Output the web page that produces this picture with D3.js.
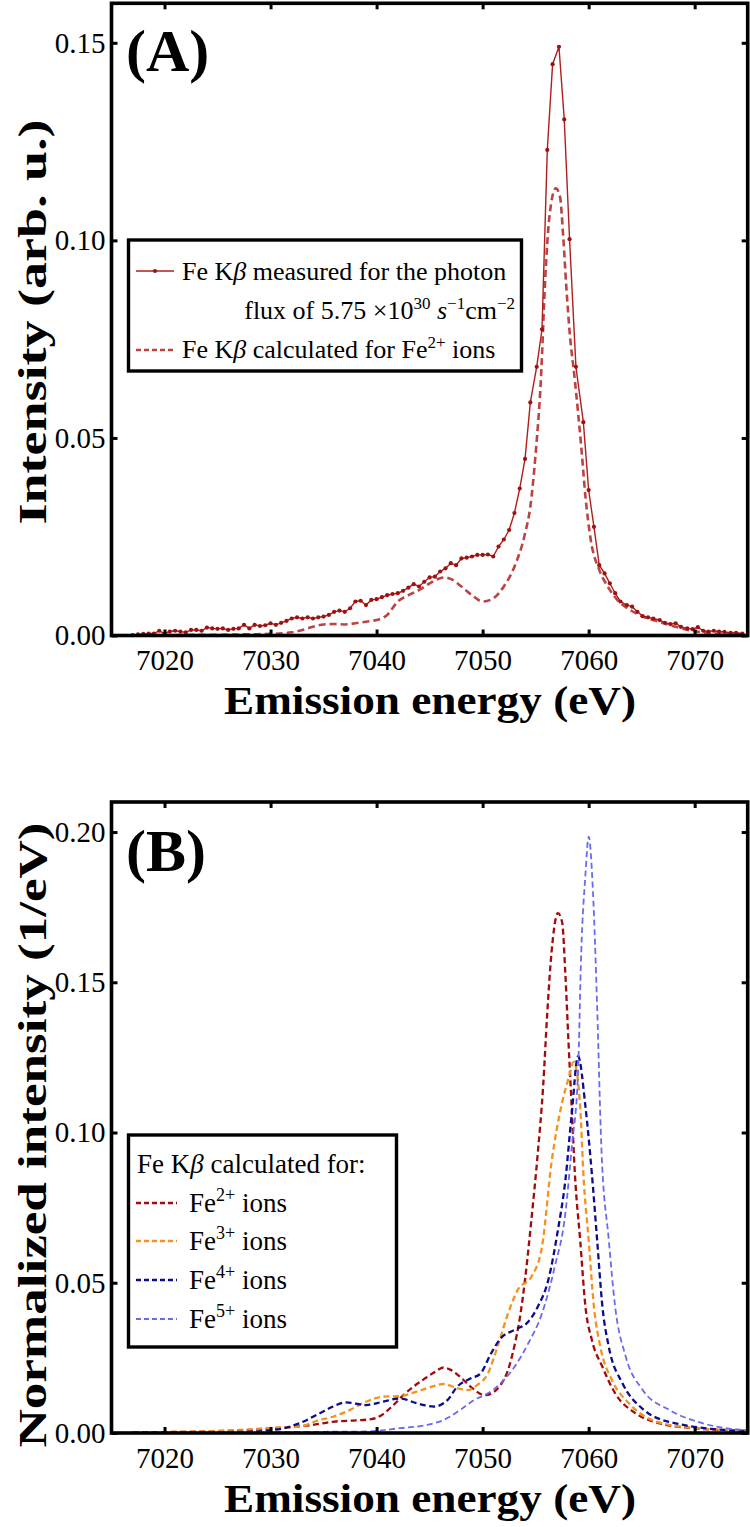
<!DOCTYPE html>
<html>
<head>
<meta charset="utf-8">
<script src="https://cdn.jsdelivr.net/npm/d3@7"></script>
<style>
  html, body { margin: 0; padding: 0; background: #fff; }
  svg { display: block; }
  text { font-family: "Liberation Serif", "Times New Roman", serif; fill: #000; }
</style>
</head>
<body>
<svg id="chart" width="750" height="1527"></svg>
<script>
// ---------------- DATA ----------------
const xTickValues = [7020, 7030, 7040, 7050, 7060, 7070];
const yTicksA = [0.00, 0.05, 0.10, 0.15];
const yTicksB = [0.00, 0.05, 0.10, 0.15, 0.20];

// Panel A: measured Fe Kβ (solid with dots)
const measuredE = [7017.0,7017.5,7018.0,7018.5,7019.0,7019.5,7020.0,7020.5,7021.0,7021.5,7022.0,7022.5,7023.0,7023.5,7024.0,7024.5,7025.0,7025.5,7026.0,7026.5,7027.0,7027.5,7028.0,7028.5,7029.0,7029.5,7030.0,7030.5,7031.0,7031.5,7032.0,7032.5,7033.0,7033.5,7034.0,7034.5,7035.0,7035.5,7036.0,7036.5,7037.0,7037.5,7038.0,7038.5,7039.0,7039.5,7040.0,7040.5,7041.0,7041.5,7042.0,7042.5,7043.0,7043.5,7044.0,7044.5,7045.0,7045.5,7046.0,7046.5,7047.0,7047.5,7048.0,7048.5,7049.0,7049.5,7050.0,7050.5,7051.0,7051.5,7052.0,7052.5,7053.0,7053.5,7054.0,7054.5,7055.1,7055.6,7056.1,7056.6,7057.2,7057.7,7058.2,7058.8,7059.5,7060.0,7060.5,7061.0,7061.5,7062.0,7062.5,7063.0,7063.6,7064.1,7064.6,7065.1,7065.6,7066.1,7066.7,7067.2,7067.7,7068.2,7068.7,7069.3,7069.8,7070.3,7070.8,7071.3,7071.8,7072.3,7072.8,7073.4,7073.9,7074.5];
const measuredI = [0.0001,0.0003,0.0004,0.0005,0.0005,0.0012,0.0005,0.0010,0.0012,0.0010,0.0008,0.0014,0.0014,0.0012,0.0020,0.0018,0.0017,0.0018,0.0014,0.0017,0.0018,0.0027,0.0018,0.0027,0.0024,0.0026,0.0031,0.0027,0.0032,0.0037,0.0043,0.0046,0.0043,0.0046,0.0043,0.0046,0.0048,0.0052,0.0060,0.0063,0.0060,0.0069,0.0086,0.0088,0.0077,0.0090,0.0092,0.0097,0.0102,0.0105,0.0107,0.0113,0.0121,0.0130,0.0124,0.0136,0.0147,0.0149,0.0162,0.0170,0.0183,0.0178,0.0195,0.0197,0.0200,0.0204,0.0204,0.0205,0.0200,0.0225,0.0243,0.0267,0.0310,0.0372,0.0447,0.0590,0.0680,0.0775,0.1229,0.1446,0.1490,0.1306,0.1003,0.0680,0.0540,0.0368,0.0275,0.0178,0.0157,0.0132,0.0107,0.0086,0.0077,0.0073,0.0060,0.0049,0.0046,0.0043,0.0039,0.0032,0.0029,0.0031,0.0022,0.0018,0.0016,0.0021,0.0012,0.0010,0.0012,0.0010,0.0009,0.0007,0.0007,0.0005];

// Panel A: calculated Fe2+ (dashed)
const calcAE = [7017,7020,7025,7028,7030,7032,7033,7034,7035,7036,7037,7038,7039,7040,7041,7042,7043,7044,7045,7046,7046.5,7047,7048,7049,7050,7051,7052,7053,7054,7054.5,7055,7055.5,7055.9,7056.3,7056.9,7057.3,7057.6,7057.9,7058.2,7058.7,7059.3,7059.7,7060.2,7061.0,7061.8,7062.7,7063.9,7065.1,7066.6,7068.2,7069.7,7072.0,7074.3,7075];
const calcAI = [0.0000,0.0001,0.0002,0.0003,0.0004,0.0008,0.0014,0.0022,0.0028,0.0029,0.0028,0.0031,0.0035,0.0039,0.0052,0.0086,0.0102,0.0115,0.0132,0.0145,0.0147,0.0143,0.0124,0.0102,0.0086,0.0094,0.0124,0.0174,0.0258,0.0326,0.0460,0.0650,0.0900,0.1060,0.1132,0.1110,0.1010,0.0880,0.0770,0.0646,0.0478,0.0351,0.0242,0.0166,0.0124,0.0090,0.0065,0.0048,0.0035,0.0022,0.0012,0.0005,0.0002,0.0002];

// Panel B: calculated Fe2+, Fe3+, Fe4+, Fe5+
const fe2E = [7017,7020,7025,7028,7030,7032,7034,7036,7038,7039.5,7040.5,7041.5,7042.5,7043.5,7044.5,7045.5,7046.3,7047,7048,7049,7050.2,7051,7051.7,7052.4,7053,7053.5,7054,7054.6,7055.2,7055.7,7056.1,7056.5,7057.1,7057.5,7057.8,7058.1,7058.4,7058.7,7059.2,7059.7,7060.3,7061.3,7062.5,7064.4,7066.7,7069.8,7075];
const fe2I = [0.0002,0.0003,0.0006,0.0010,0.0015,0.0020,0.0027,0.0038,0.0042,0.0046,0.0060,0.0090,0.0125,0.0155,0.0180,0.0203,0.0218,0.0210,0.0183,0.0150,0.0126,0.0135,0.0160,0.0210,0.0290,0.0380,0.0510,0.0710,0.0930,0.1150,0.1400,0.1600,0.1730,0.1700,0.1530,0.1300,0.1086,0.0864,0.0642,0.0420,0.0310,0.0220,0.0132,0.0066,0.0032,0.0016,0.0008];

const fe3E = [7017,7020,7025,7028,7030,7032.7,7034.6,7035.9,7037.5,7039.0,7040.6,7042.2,7043.8,7045.4,7046.3,7047.6,7048.6,7049.5,7050.5,7051.4,7052.4,7053.3,7054.6,7055.6,7056.5,7057.5,7058.1,7058.6,7059.2,7059.5,7060.0,7060.5,7061.1,7062.2,7063.8,7066.0,7069.8,7075];
const fe3I = [0.0002,0.0003,0.0007,0.0012,0.0017,0.0021,0.0043,0.0054,0.0077,0.0104,0.0121,0.0123,0.0138,0.0156,0.0163,0.0149,0.0143,0.0160,0.0198,0.0287,0.0398,0.0476,0.0520,0.0620,0.0900,0.1100,0.1180,0.1235,0.1086,0.0864,0.0642,0.0420,0.0287,0.0176,0.0099,0.0043,0.0017,0.0008];

const fe4E = [7017,7020,7025,7028,7030,7031.5,7032.7,7034.6,7035.9,7037.1,7039.0,7040.6,7042.2,7043.8,7045.4,7046.7,7047.6,7048.9,7049.8,7050.8,7051.7,7053.0,7054.3,7055.2,7056.2,7057.1,7057.8,7058.4,7059.0,7059.7,7060.3,7060.8,7061.3,7061.9,7063.2,7065.1,7068.2,7075];
const fe4I = [0.0002,0.0002,0.0003,0.0004,0.0009,0.0018,0.0032,0.0065,0.0088,0.0102,0.0093,0.0104,0.0115,0.0099,0.0088,0.0110,0.0154,0.0182,0.0198,0.0265,0.0315,0.0343,0.0370,0.0420,0.0510,0.0675,0.0840,0.1060,0.1254,0.1086,0.0864,0.0642,0.0420,0.0287,0.0165,0.0080,0.0032,0.0005];

const fe5E = [7017,7025,7030,7035,7039.0,7042.2,7044.8,7046.3,7047.9,7049.2,7050.5,7051.7,7053.0,7054.3,7055.6,7056.8,7057.8,7058.4,7059.0,7059.3,7059.7,7060.0,7060.4,7060.8,7061.2,7061.9,7062.5,7063.5,7065.1,7067.6,7070.8,7074.6,7075];
const fe5I = [0.0003,0.0003,0.0003,0.0004,0.0005,0.0016,0.0027,0.0043,0.0077,0.0110,0.0132,0.0165,0.0220,0.0298,0.0398,0.0553,0.0730,0.0950,0.1200,0.1600,0.1860,0.1985,0.1806,0.1420,0.0950,0.0642,0.0420,0.0254,0.0143,0.0077,0.0032,0.0010,0.0009];

const seriesB = [
  { name: "2+", E: fe2E, I: fe2I, color: "#a30a0a", width: 2.3 },
  { name: "3+", E: fe3E, I: fe3I, color: "#f5921e", width: 2.3 },
  { name: "4+", E: fe4E, I: fe4I, color: "#0d0d8c", width: 2.3 },
  { name: "5+", E: fe5E, I: fe5I, color: "#6a6af0", width: 1.8 }
];

// ---------------- LAYOUT ----------------
const svg = d3.select("#chart");
const xL = 111.5, xR = 747.7;
const x = d3.scaleLinear().domain([7015, 7075]).range([xL, xR]);
const yA = d3.scaleLinear().domain([0, 0.16]).range([635.5, 3.3]);
const yB = d3.scaleLinear().domain([0, 0.21]).range([1433, 802]);
const FONT = '"Liberation Serif", "Times New Roman", serif';

function frame(y, yTicks, fmt) {
  const g = svg.append("g");
  const [yBot, yTop] = y.range();
  const gb = g.append("g").attr("transform", `translate(0,${yBot})`)
    .call(d3.axisBottom(x).tickValues(xTickValues).tickSize(-6).tickPadding(14).tickFormat(d3.format("d")));
  const gt = g.append("g").attr("transform", `translate(0,${yTop})`)
    .call(d3.axisTop(x).tickValues(xTickValues).tickSize(-6).tickFormat(""));
  const gl = g.append("g").attr("transform", `translate(${xL},0)`)
    .call(d3.axisLeft(y).tickValues(yTicks).tickSize(-6).tickPadding(6).tickFormat(fmt));
  const gr = g.append("g").attr("transform", `translate(${xR},0)`)
    .call(d3.axisRight(y).tickValues(yTicks).tickSize(-6).tickFormat(""));
  [gb, gt, gl, gr].forEach(a => {
    a.select(".domain").remove();
    a.selectAll(".tick line").attr("stroke", "#000").attr("stroke-width", 3);
    a.selectAll(".tick text").attr("font-family", FONT).attr("font-size", 29).attr("fill", "#000");
  });
  gb.selectAll(".tick text").attr("dy", "0.71em");
  g.append("rect").attr("x", xL).attr("y", yTop).attr("width", xR - xL).attr("height", yBot - yTop)
    .attr("fill", "none").attr("stroke", "#000").attr("stroke-width", 3.6);
  return g;
}

const fmt2 = d3.format(".2f");

// ---------------- PANEL A ----------------
const gA = svg.append("g");
const dataMeas = measuredE.map((e, i) => ({ e, v: measuredI[i] }));
const dataCalcA = calcAE.map((e, i) => ({ e, v: calcAI[i] }));

gA.append("path").datum(dataCalcA)
  .attr("fill", "none").attr("stroke", "#bd4343").attr("stroke-width", 2.6)
  .attr("stroke-dasharray", "7,4")
  .attr("d", d3.line().x(d => x(d.e)).y(d => yA(d.v)).curve(d3.curveMonotoneX));
gA.append("path").datum(dataMeas)
  .attr("fill", "none").attr("stroke", "#b01e1e").attr("stroke-width", 1.4)
  .attr("d", d3.line().x(d => x(d.e)).y(d => yA(d.v)));
gA.selectAll("circle.m").data(dataMeas).enter().append("circle")
  .attr("cx", d => x(d.e)).attr("cy", d => yA(d.v)).attr("r", 2.1).attr("fill", "#a01010");

frame(yA, yTicksA, fmt2);

svg.append("text").attr("x", 126).attr("y", 71).attr("font-size", 60).attr("font-weight", "bold").text("(A)");

// Legend A
const legA = svg.append("g");
legA.append("rect").attr("x", 128.5).attr("y", 240).attr("width", 393).attr("height", 131)
  .attr("fill", "#fff").attr("stroke", "#000").attr("stroke-width", 3.4);
legA.append("line").attr("x1", 136).attr("x2", 174).attr("y1", 271).attr("y2", 271)
  .attr("stroke", "#b01e1e").attr("stroke-width", 1.4);
legA.append("circle").attr("cx", 155).attr("cy", 271).attr("r", 2.1).attr("fill", "#a01010");
const t1 = legA.append("text").attr("x", 182).attr("y", 280).attr("font-size", 26);
t1.append("tspan").text("Fe K");
t1.append("tspan").attr("font-style", "italic").text("β");
t1.append("tspan").text(" measured for the photon");
const t2 = legA.append("text").attr("x", 515).attr("y", 319).attr("font-size", 26).attr("text-anchor", "end");
t2.append("tspan").text("flux of 5.75 ×10");
t2.append("tspan").attr("font-size", 17).attr("dy", -10).text("30");
t2.append("tspan").attr("dy", 10).text(" ");
t2.append("tspan").attr("font-style", "italic").text("s");
t2.append("tspan").attr("font-size", 17).attr("dy", -10).text("−1");
t2.append("tspan").attr("dy", 10).text("cm");
t2.append("tspan").attr("font-size", 17).attr("dy", -10).text("−2");
legA.append("line").attr("x1", 136).attr("x2", 174).attr("y1", 350).attr("y2", 350)
  .attr("stroke", "#bd4343").attr("stroke-width", 2.6).attr("stroke-dasharray", "5,3");
const t3 = legA.append("text").attr("x", 182).attr("y", 358).attr("font-size", 26);
t3.append("tspan").text("Fe K");
t3.append("tspan").attr("font-style", "italic").text("β");
t3.append("tspan").text(" calculated for Fe");
t3.append("tspan").attr("font-size", 17).attr("dy", -10).text("2+");
t3.append("tspan").attr("dy", 10).text(" ions");

// Axis titles A
svg.append("text").attr("x", 430).attr("y", 714).attr("text-anchor", "middle")
  .attr("font-size", 40).attr("font-weight", "bold")
  .attr("textLength", 412).attr("lengthAdjust", "spacingAndGlyphs")
  .text("Emission energy (eV)");
svg.append("text").attr("transform", "translate(46,322) rotate(-90)").attr("text-anchor", "middle")
  .attr("font-size", 40).attr("font-weight", "bold")
  .attr("textLength", 405).attr("lengthAdjust", "spacingAndGlyphs")
  .text("Intensity (arb. u.)");

// ---------------- PANEL B ----------------
const gB = svg.append("g");
seriesB.forEach(s => {
  const data = s.E.map((e, i) => ({ e, v: s.I[i] }));
  gB.append("path").datum(data)
    .attr("fill", "none").attr("stroke", s.color).attr("stroke-width", s.width)
    .attr("stroke-dasharray", "6,3.5")
    .attr("d", d3.line().x(d => x(d.e)).y(d => yB(d.v)).curve(d3.curveMonotoneX));
});

frame(yB, yTicksB, fmt2);

svg.append("text").attr("x", 126).attr("y", 871).attr("font-size", 60).attr("font-weight", "bold").text("(B)");

// Legend B
const legB = svg.append("g");
legB.append("rect").attr("x", 128.5).attr("y", 1135).attr("width", 268).attr("height", 212)
  .attr("fill", "#fff").attr("stroke", "#000").attr("stroke-width", 3.4);
const tb = legB.append("text").attr("x", 137).attr("y", 1173).attr("font-size", 27);
tb.append("tspan").text("Fe K");
tb.append("tspan").attr("font-style", "italic").text("β");
tb.append("tspan").text(" calculated for:");
const legYs = [1212, 1250, 1289, 1328];
seriesB.forEach((s, i) => {
  legB.append("line").attr("x1", 136).attr("x2", 177).attr("y1", legYs[i] - 9).attr("y2", legYs[i] - 9)
    .attr("stroke", s.color).attr("stroke-width", s.width).attr("stroke-dasharray", "5,3");
  const t = legB.append("text").attr("x", 189).attr("y", legYs[i]).attr("font-size", 27);
  t.append("tspan").text("Fe");
  t.append("tspan").attr("font-size", 18).attr("dy", -11).text(s.name);
  t.append("tspan").attr("dy", 11).text(" ions");
});

// Axis titles B
svg.append("text").attr("x", 430).attr("y", 1512).attr("text-anchor", "middle")
  .attr("font-size", 40).attr("font-weight", "bold")
  .attr("textLength", 412).attr("lengthAdjust", "spacingAndGlyphs")
  .text("Emission energy (eV)");
svg.append("text").attr("transform", "translate(46,1135) rotate(-90)").attr("text-anchor", "middle")
  .attr("font-size", 40).attr("font-weight", "bold")
  .attr("textLength", 625).attr("lengthAdjust", "spacingAndGlyphs")
  .text("Normalized intensity (1/eV)");
</script>
</body>
</html>
